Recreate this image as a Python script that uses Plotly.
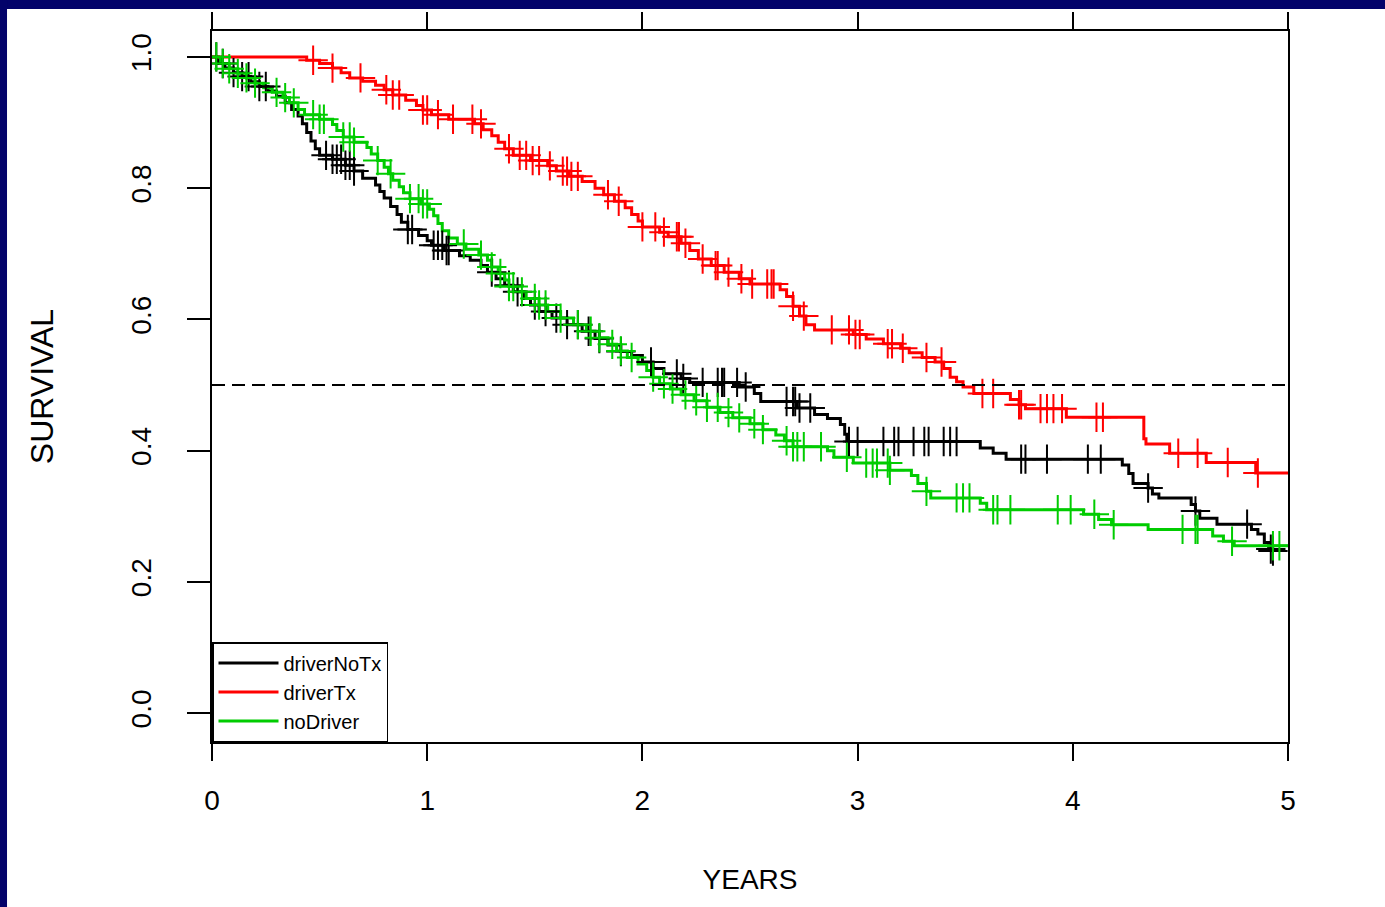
import numpy as np
import plotly.graph_objects as go

# ---------------- data ----------------
groups = ["driverNoTx", "driverTx", "noDriver"]
colors = ["#000000", "#ff0000", "#00cc00"]

# driverNoTx : event times (years) and survival after each step
black_t = [0.00, 0.03, 0.06, 0.10, 0.14, 0.18, 0.22, 0.26, 0.30, 0.34, 0.37, 0.40, 0.42, 0.44,
           0.46, 0.48, 0.50, 0.56, 0.62, 0.66, 0.70, 0.76, 0.78, 0.80, 0.83, 0.86, 0.88, 0.91,
           0.96, 1.00, 1.02, 1.08, 1.15, 1.20, 1.25, 1.28, 1.32, 1.36, 1.40, 1.45, 1.48, 1.52,
           1.58, 1.65, 1.72, 1.78, 1.84, 1.90, 1.95, 2.00, 2.05, 2.10, 2.18, 2.22, 2.45, 2.52,
           2.55, 2.72, 2.80, 2.86, 2.92, 2.94, 2.95, 3.57, 3.63, 3.69, 4.23, 4.26, 4.28, 4.35,
           4.37, 4.40, 4.55, 4.57, 4.59, 4.67, 4.83, 4.86, 4.89, 4.91, 4.93]
black_s = [1.000, 0.990, 0.983, 0.976, 0.970, 0.962, 0.955, 0.948, 0.940, 0.930, 0.920, 0.910,
           0.898, 0.885, 0.872, 0.860, 0.850, 0.844, 0.835, 0.826, 0.815, 0.805, 0.795, 0.785,
           0.772, 0.760, 0.748, 0.737, 0.728, 0.720, 0.713, 0.705, 0.697, 0.690, 0.682, 0.672,
           0.662, 0.652, 0.642, 0.632, 0.622, 0.612, 0.602, 0.592, 0.582, 0.571, 0.561, 0.551,
           0.545, 0.535, 0.525, 0.517, 0.510, 0.504, 0.497, 0.487, 0.475, 0.465, 0.455, 0.449,
           0.440, 0.425, 0.414, 0.404, 0.396, 0.387, 0.378, 0.365, 0.350, 0.343, 0.334, 0.328,
           0.318, 0.308, 0.297, 0.288, 0.280, 0.273, 0.260, 0.250, 0.247]
black_cens = [0.02, 0.05, 0.10, 0.14, 0.17, 0.22, 0.25, 0.53, 0.56, 0.58, 0.60, 0.62, 0.64, 0.66,
              0.91, 0.93, 1.03, 1.05, 1.07, 1.09, 1.10, 1.30, 1.38, 1.42, 1.50, 1.55, 1.60, 1.65,
              1.70, 1.75, 1.80, 1.90, 2.04, 2.16, 2.19, 2.28, 2.35, 2.37, 2.38, 2.44, 2.48, 2.67,
              2.70, 2.71, 2.73, 2.78, 2.96, 3.00, 3.12, 3.17, 3.19, 3.26, 3.31, 3.33, 3.40, 3.43,
              3.46, 3.76, 3.78, 3.88, 4.07, 4.13, 4.35, 4.57, 4.81, 4.92, 4.93]

# driverTx
red_t = [0.00, 0.44, 0.50, 0.56, 0.60, 0.64, 0.70, 0.76, 0.80, 0.84, 0.90, 0.95, 0.98, 1.02,
         1.10, 1.22, 1.26, 1.30, 1.33, 1.36, 1.40, 1.48, 1.56, 1.60, 1.66, 1.72, 1.78, 1.82,
         1.87, 1.92, 1.95, 1.98, 2.00, 2.08, 2.12, 2.18, 2.22, 2.26, 2.32, 2.38, 2.45, 2.50,
         2.64, 2.67, 2.70, 2.73, 2.76, 2.80, 2.98, 3.04, 3.12, 3.20, 3.24, 3.30, 3.36, 3.40,
         3.43, 3.46, 3.49, 3.54, 3.71, 3.75, 3.78, 3.97, 4.33, 4.34, 4.45, 4.62, 4.85, 5.00]
red_s = [1.000, 0.995, 0.990, 0.983, 0.976, 0.968, 0.963, 0.957, 0.950, 0.942, 0.934, 0.926,
         0.919, 0.912, 0.905, 0.898, 0.889, 0.880, 0.870, 0.860, 0.850, 0.842, 0.834, 0.826,
         0.818, 0.810, 0.800, 0.790, 0.780, 0.770, 0.760, 0.750, 0.741, 0.733, 0.726, 0.716,
         0.705, 0.692, 0.682, 0.672, 0.662, 0.654, 0.645, 0.635, 0.620, 0.605, 0.592, 0.584,
         0.577, 0.570, 0.563, 0.556, 0.549, 0.542, 0.535, 0.525, 0.512, 0.505, 0.497, 0.487,
         0.478, 0.470, 0.464, 0.451, 0.418, 0.410, 0.396, 0.382, 0.366, 0.366]
red_cens = [0.47, 0.56, 0.69, 0.81, 0.84, 0.87, 0.98, 1.00, 1.05, 1.12, 1.21, 1.25, 1.38, 1.43,
            1.46, 1.49, 1.52, 1.57, 1.63, 1.65, 1.67, 1.70, 1.84, 1.89, 2.00, 2.06, 2.10, 2.16,
            2.17, 2.20, 2.28, 2.34, 2.35, 2.40, 2.46, 2.51, 2.58, 2.60, 2.61, 2.70, 2.75, 2.88,
            2.96, 2.99, 3.01, 3.14, 3.16, 3.21, 3.32, 3.39, 3.58, 3.63, 3.75, 3.76, 3.85, 3.88,
            3.91, 3.95, 4.11, 4.14, 4.49, 4.58, 4.72, 4.86]

# noDriver
green_t = [0.00, 0.04, 0.08, 0.12, 0.16, 0.20, 0.24, 0.28, 0.33, 0.36, 0.40, 0.43, 0.50, 0.56,
           0.58, 0.61, 0.66, 0.72, 0.74, 0.77, 0.80, 0.82, 0.84, 0.87, 0.89, 0.92, 0.97, 1.01,
           1.03, 1.05, 1.07, 1.10, 1.14, 1.18, 1.24, 1.28, 1.30, 1.33, 1.36, 1.38, 1.42, 1.46,
           1.52, 1.56, 1.62, 1.68, 1.74, 1.80, 1.84, 1.88, 1.93, 1.98, 2.02, 2.05, 2.08, 2.13,
           2.18, 2.24, 2.30, 2.36, 2.42, 2.50, 2.56, 2.62, 2.66, 2.70, 2.86, 2.89, 2.98, 3.15,
           3.25, 3.28, 3.32, 3.34, 3.57, 3.60, 4.05, 4.12, 4.18, 4.35, 4.65, 4.70, 4.75, 5.00]
green_s = [1.000, 0.990, 0.982, 0.975, 0.968, 0.960, 0.953, 0.946, 0.938, 0.930, 0.920, 0.912,
           0.905, 0.897, 0.888, 0.878, 0.870, 0.862, 0.852, 0.842, 0.832, 0.822, 0.812, 0.802,
           0.793, 0.784, 0.776, 0.768, 0.758, 0.746, 0.735, 0.724, 0.715, 0.707, 0.698, 0.690,
           0.680, 0.670, 0.660, 0.650, 0.642, 0.632, 0.622, 0.612, 0.602, 0.592, 0.582, 0.572,
           0.562, 0.552, 0.542, 0.532, 0.522, 0.512, 0.502, 0.494, 0.485, 0.476, 0.466, 0.458,
           0.450, 0.441, 0.432, 0.424, 0.415, 0.406, 0.400, 0.390, 0.381, 0.370, 0.362, 0.350,
           0.338, 0.328, 0.320, 0.310, 0.303, 0.295, 0.287, 0.280, 0.270, 0.262, 0.255, 0.255]
green_cens = [0.02, 0.05, 0.08, 0.12, 0.16, 0.20, 0.30, 0.34, 0.38, 0.47, 0.50, 0.52, 0.61, 0.64,
              0.66, 0.77, 0.83, 0.92, 0.96, 0.98, 1.00, 1.17, 1.25, 1.30, 1.34, 1.38, 1.40, 1.44,
              1.50, 1.52, 1.55, 1.62, 1.70, 1.76, 1.80, 1.86, 1.90, 1.95, 2.05, 2.10, 2.14, 2.20,
              2.25, 2.30, 2.35, 2.40, 2.45, 2.52, 2.56, 2.67, 2.70, 2.72, 2.75, 2.83, 2.95, 3.04,
              3.07, 3.09, 3.14, 3.15, 3.32, 3.46, 3.49, 3.52, 3.63, 3.65, 3.71, 3.93, 3.99, 4.10,
              4.19, 4.51, 4.57, 4.58, 4.74, 4.93, 4.96]

x_ticks = [0, 1, 2, 3, 4, 5]
y_ticks = [0.0, 0.2, 0.4, 0.6, 0.8, 1.0]
y_ticktext = ["0.0", "0.2", "0.4", "0.6", "0.8", "1.0"]
median_level = 0.5

series = [(black_t, black_s, black_cens), (red_t, red_s, red_cens), (green_t, green_s, green_cens)]


def step_value(times, surv, t):
    times = np.asarray(times)
    surv = np.asarray(surv)
    idx = np.searchsorted(times, t, side="right") - 1
    return surv[np.clip(idx, 0, len(surv) - 1)]


FONT = "Liberation Sans, Arial, sans-serif"
fig = go.Figure()

for name, col, (t, s, c) in zip(groups, colors, series):
    fig.add_trace(go.Scatter(
        x=t, y=s, mode="lines", name=name, line=dict(color=col, width=3, shape="hv"),
        legendgroup=name, hoverinfo="skip"))
for name, col, (t, s, c) in zip(groups, colors, series):
    cy = step_value(t, s, np.asarray(c))
    fig.add_trace(go.Scatter(
        x=c, y=cy, mode="markers", showlegend=False, legendgroup=name,
        marker=dict(symbol="cross-thin", size=21, line=dict(color=col, width=2)),
        hoverinfo="skip"))

# median reference line
fig.add_shape(type="line", xref="x", yref="y", x0=x_ticks[0], x1=x_ticks[-1],
              y0=median_level, y1=median_level,
              line=dict(color="black", width=2, dash="13px,7px"), layer="above")

# navy slide frame (top and left)
NAVY = "#03036a"
fig.add_shape(type="rect", xref="paper", yref="paper", x0=-0.25, x1=1.2, y0=1.0308, y1=1.06,
              fillcolor=NAVY, line=dict(width=0), layer="above")
fig.add_shape(type="rect", xref="paper", yref="paper", x0=-0.25, x1=-0.1905, y0=-0.3, y1=1.06,
              fillcolor=NAVY, line=dict(width=0), layer="above")

fig.update_layout(
    width=1385, height=907,
    margin=dict(l=212, r=97, t=28, b=165),
    paper_bgcolor="white", plot_bgcolor="white",
    font=dict(family=FONT, color="black"),
    showlegend=True,
    legend=dict(x=0, y=0, xanchor="left", yanchor="bottom", bgcolor="white",
                bordercolor="black", borderwidth=1.5, font=dict(size=20, family=FONT),
                itemwidth=60, tracegroupgap=0),
)
fig.update_xaxes(
    range=[0, 5], tickvals=x_ticks, ticktext=[str(v) for v in x_ticks],
    showgrid=False, zeroline=False, showline=True, linecolor="black", linewidth=1.5,
    mirror="ticks", ticks="outside", ticklen=17, tickwidth=1.5, tickcolor="black",
    tickfont=dict(size=28), ticklabelstandoff=16,
    title=dict(text="YEARS", font=dict(size=28), standoff=54),
)
fig.update_yaxes(
    range=[-0.044, 1.0395], tickvals=y_ticks, ticktext=y_ticktext, tickangle=-90,
    showgrid=False, zeroline=False, showline=True, linecolor="black", linewidth=1.5,
    mirror=True, ticks="outside", ticklen=23, tickwidth=1.5, tickcolor="black",
    tickfont=dict(size=28), ticklabelstandoff=25,
    title=dict(text="SURVIVAL", font=dict(size=32), standoff=63),
)

fig.write_html("out.html", config={"displayModeBar": False},
               post_script="document.body.style.margin='0px';")
